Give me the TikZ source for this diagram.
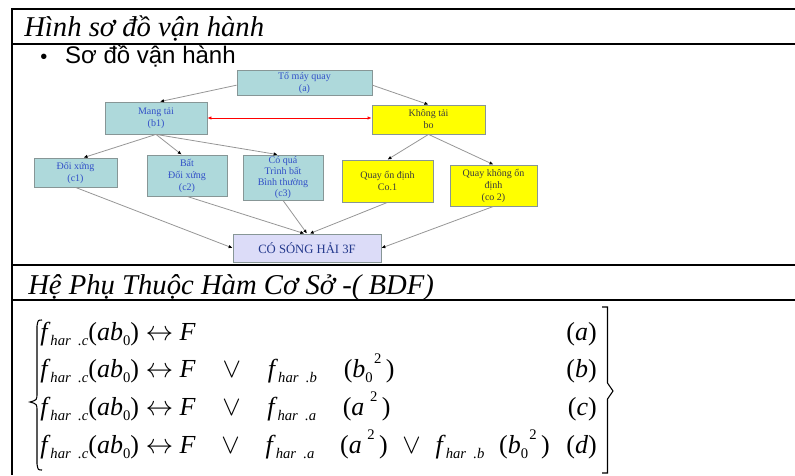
\documentclass[tikz,border=0pt]{standalone}
\usepackage{fontspec}
\setmainfont{Liberation Serif}
\setsansfont{Liberation Sans}
\usetikzlibrary{positioning, arrows.meta}

\definecolor{boxteal}{RGB}{174,217,219}
\definecolor{boxyellow}{RGB}{255,255,0}
\definecolor{boxlav}{RGB}{220,220,248}
\definecolor{boxline}{RGB}{135,150,150}
\definecolor{boxblue}{RGB}{50,80,200}
\definecolor{boxdark}{RGB}{60,60,60}
\definecolor{linkgray}{RGB}{150,150,150}

% pieces of the formulas
\newcommand{\eqsub}{\fontsize{11}{11}\selectfont}
\newcommand{\fh}[1]{\textit{f}\raisebox{-0.45ex}{\eqsub\itshape har\ \ .#1}}
\newcommand{\lo}[1]{\raisebox{-0.5ex}{\eqsub #1}}
\newcommand{\hi}[1]{\raisebox{1.1ex}{\eqsub\kern1pt #1}}
% spread one "or"-term over a given width (only the gaps between parts grow)
\newcommand{\orterm}[3]{\makebox[#1][s]{\ $\vee$\ \fh{#2}\ \mbox{(#3)}}}

\tikzset{
    box/.style={
        draw=boxline, line width=0.6pt,
        align=center, inner sep=1pt,
        font=\fontsize{7.5}{9}\selectfont
    },
    tealbox/.style={box, fill=boxteal, text=boxblue},
    yellowbox/.style={box, fill=boxyellow, text=boxdark},
    link/.style={draw=linkgray, line width=0.6pt, -{Latex[black,length=3pt,width=2.6pt]}},
    rule/.style={line width=1.5pt},
    heading/.style={anchor=base west, inner sep=0pt, font=\fontsize{21.5}{25}\selectfont\itshape},
    eqrow/.style={anchor=base west, inner sep=0pt, font=\fontsize{19.5}{23}\selectfont},
    eqtag/.style={anchor=base east, inner sep=0pt, font=\fontsize{19.5}{23}\selectfont}
}

\begin{document}
\begin{tikzpicture}[x=0.75pt, y=-0.75pt]
    \useasboundingbox (0,0) rectangle (795,475);

    % table rules
    \draw[rule] (12,9) -- (795,9);
    \draw[rule] (12,44) -- (795,44);
    \draw[rule] (12,265) -- (795,265);
    \draw[rule] (12,300) -- (795,300);
    \draw[rule] (12,8.25) -- (12,475);

    % headings
    \node[heading] (title) at (24,36) {Hình sơ đồ vận hành};
    \node[heading] (bdf) at (28,294) {Hệ Phụ Thuộc Hàm Cơ Sở -( BDF)};

    \node[inner sep=0pt, anchor=base west, font=\sffamily\fontsize{15}{17}\selectfont] (dot) at (40,63) {•};
    \node[inner sep=0pt, font=\sffamily\fontsize{18}{21}\selectfont, right = 13pt of dot.base east, anchor=base west] (sub) {Sơ đồ vận hành};

    % Blocks
    \node[tealbox, minimum width=101.25pt, minimum height=18.75pt] (tomay) at (304.5,82.5) {Tổ máy quay\\(a)};
    \node[tealbox, minimum width=76.5pt, minimum height=24pt] (mang) at (156,118) {Mang tải\\(b1)};
    \node[yellowbox, minimum width=84.75pt, minimum height=21.75pt] (khong) at (428.5,119.5) {Không tải\\bo};

    \node[tealbox, minimum width=62.25pt, minimum height=21.75pt] (c1) at (75.5,172.5) {Đối xứng\\(c1)};
    \node[tealbox, minimum width=60pt, minimum height=30.75pt] (c2) at (187,175.5) {Bất\\Đối xứng\\(c2)};
    \node[tealbox, minimum width=60pt, minimum height=33.75pt, inner ysep=0pt,
          font=\fontsize{7.5}{8.3}\selectfont] (c3) at (283,177.5) {Có quá\\Trình bất\\Bình thường\\(c3)};
    \node[yellowbox, minimum width=68.25pt, minimum height=31.5pt] (co1) at (387.5,181) {Quay ổn định\\Co.1};
    \node[yellowbox, minimum width=65.25pt, minimum height=30.75pt] (co2) at (493.5,185.5) {Quay không ổn\\định\\(co 2)};

    \node[box, fill=boxlav, text=boxblue!70!black, minimum width=111pt, minimum height=21pt,
          font=\fontsize{9.5}{11}\selectfont] (csh) at (307,248) {CÓ SÓNG HẢI 3F};

    % Lines
    \draw[link] ([yshift=-2]tomay.west) -- ([xshift=3]mang.north);
    \draw[link] ([yshift=-2]tomay.east) -- (khong.north);
    \draw[red, line width=0.6pt, {Latex[length=3pt,width=2.6pt]}-{Latex[length=3pt,width=2.6pt]}] (mang.east) -- (mang.east -| khong.west);
    \draw[link] (mang.south) -- ([xshift=6]c1.north);
    \draw[link] (mang.south) -- ([xshift=-4]c2.north);
    \draw[link] (mang.south) -- ([xshift=-4]c3.north);
    \draw[link] (khong.south) -- (co1.north);
    \draw[link] (khong.south) -- (co2.north);
    \draw[link] (c1.south) -- (csh.west);
    \draw[link] (c2.south) -- ([xshift=-2]csh.north);
    \draw[link] (c3.south) -- (csh.north);
    \draw[link] (co1.south) -- ([xshift=2]csh.north);
    \draw[link] (co2.south) -- (csh.east);

    % formulas
    \node[eqrow] (eqa) at (40,340) {\fh{c}(\textit{ab}\lo{0}) $\leftrightarrow$ \textit{F}};
    \node[eqrow] (eqb) at (40,377) {\fh{c}(\textit{ab}\lo{0}) $\leftrightarrow$ \textit{F}%
        \orterm{149pt}{b}{\textit{b}\lo{0}\hi{2}\,}};
    \node[eqrow] (eqc) at (40,415) {\fh{c}(\textit{ab}\lo{0}) $\leftrightarrow$ \textit{F}%
        \orterm{146pt}{a}{\textit{a}\,\hi{2}\,}};
    \node[eqrow] (eqd) at (40,453) {\fh{c}(\textit{ab}\lo{0}) $\leftrightarrow$ \textit{F}%
        \orterm{144pt}{a}{\textit{a}\,\hi{2}\,}\orterm{121.5pt}{b}{\textit{b}\lo{0}\hi{2}\,}};
    \node[eqtag] (ta) at (597,340) {(\textit{a})};
    \node[eqtag] (tb) at (597,377) {(\textit{b})};
    \node[eqtag] (tc) at (597,415) {(\textit{c})};
    \node[eqtag] (td) at (597,453) {(\textit{d})};

    % braces
    \draw[line width=0.8pt] (42,320) .. controls (38,320) .. (37,326) -- (37,393)
        .. controls (37,400) .. (30,402) .. controls (37,404) .. (37,411) -- (37,464)
        .. controls (38,470) .. (42,470);
    \draw[line width=0.8pt] (602,307) -- (607.5,307) -- (607.5,383) -- (613,391)
        -- (607.5,399) -- (607.5,473) -- (602,473);
\end{tikzpicture}
\end{document}
